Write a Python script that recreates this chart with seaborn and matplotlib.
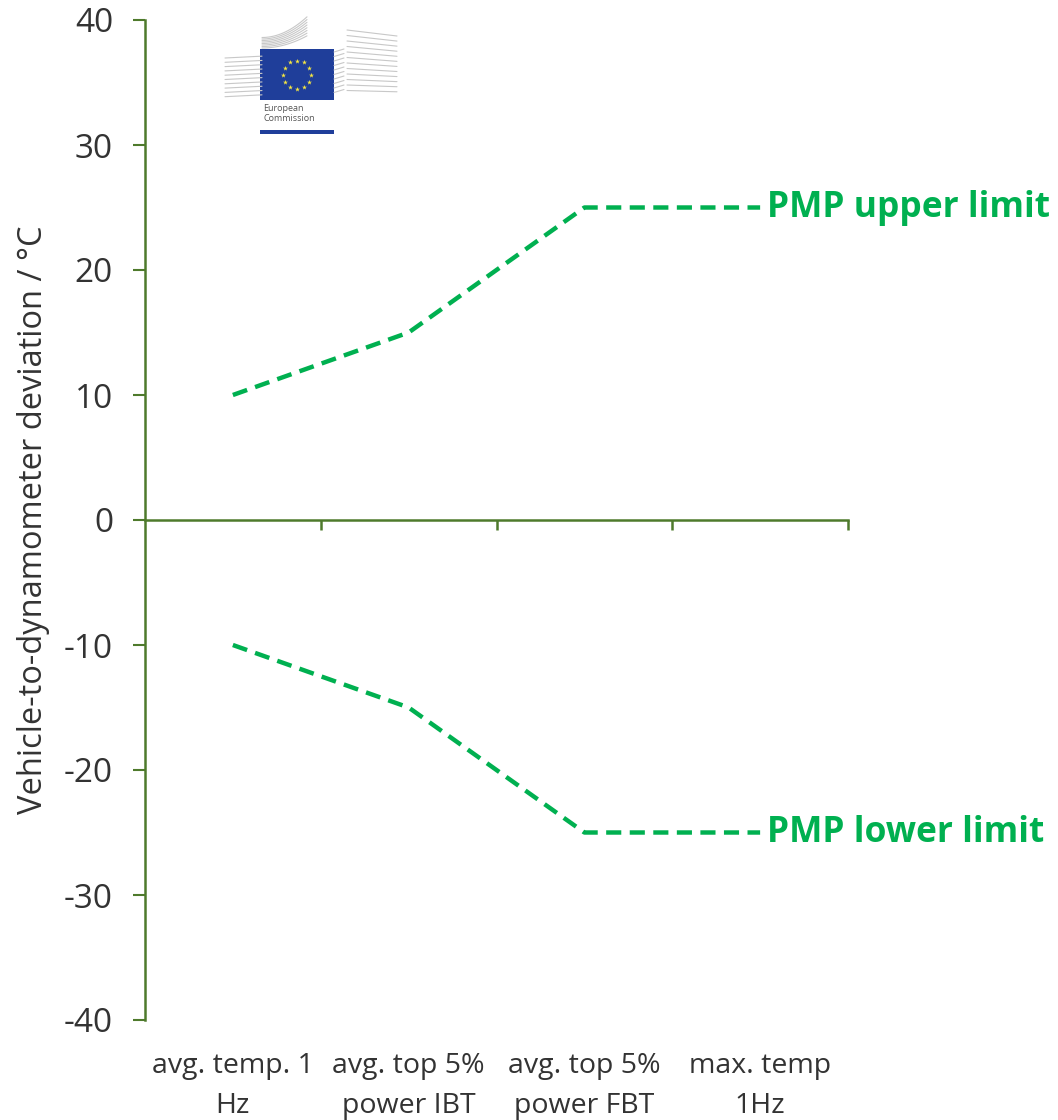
import numpy as np
import pandas as pd
import matplotlib
matplotlib.use("Agg")
import matplotlib.pyplot as plt
import seaborn as sns
from matplotlib.patches import Rectangle

categories = ["avg. temp. 1\nHz", "avg. top 5%\npower IBT", "avg. top 5%\npower FBT", "max. temp\n1Hz"]
upper_limit = [10, 15, 25, 25]
lower_limit = [-10, -15, -25, -25]
series_names = ["PMP upper limit", "PMP lower limit"]
y_ticks = [-40, -30, -20, -10, 0, 10, 20, 30, 40]

sns.set_style("white")
plt.rcParams['font.family'] = ['Open Sans', 'DejaVu Sans']

AXIS = '#4E7A2C'
GREEN = '#00B050'
TXT = '#333333'

df = pd.DataFrame({
    "x": list(range(len(categories))) * 2,
    "y": upper_limit + lower_limit,
    "series": [series_names[0]] * len(categories) + [series_names[1]] * len(categories),
})

fig = plt.figure(figsize=(10.58, 11.2), dpi=100)
ax = fig.add_axes([145/1058, 1 - 1020/1120, (848 - 145)/1058, 1000/1120])

sns.lineplot(data=df, x="x", y="y", units="series", estimator=None, ax=ax,
             color=GREEN, linewidth=3.2, legend=False)
for ln in ax.lines:
    ln.set_dashes((3.4, 1.9))

ax.set_xlim(-0.5, 3.5)
ax.set_ylim(-40, 40)
ax.set_yticks(y_ticks)
ax.set_yticklabels([str(v) for v in y_ticks], fontsize=24, color=TXT)
ax.tick_params(axis='y', direction='out', length=9, width=1.5, color=AXIS, pad=14, left=True)

ax.spines['top'].set_visible(False)
ax.spines['right'].set_visible(False)
ax.spines['left'].set_color(AXIS)
ax.spines['left'].set_linewidth(1.8)
ax.spines['bottom'].set_color(AXIS)
ax.spines['bottom'].set_linewidth(1.8)
ax.spines['bottom'].set_position(('data', 0))

ax.set_xticks([0.5, 1.5, 2.5, 3.5])
ax.set_xticklabels([])
ax.tick_params(axis='x', direction='out', length=7, width=1.8, color=AXIS, bottom=True)
ax.set_xlabel("")
ax.set_ylabel("Vehicle-to-dynamometer deviation / °C", fontsize=23.5, color=TXT, labelpad=10)

trans = ax.get_xaxis_transform()
for i, lab in enumerate(categories):
    ax.text(i, -0.032, lab, transform=trans, ha='center', va='top', fontsize=20.5,
            color=TXT, linespacing=1.55)

ax.text(3.04, upper_limit[-1], series_names[0], ha='left', va='center', fontsize=25.5,
        fontweight='bold', color=GREEN, clip_on=False)
ax.text(3.04, lower_limit[-1], series_names[1], ha='left', va='center', fontsize=25.5,
        fontweight='bold', color=GREEN, clip_on=False)

# European Commission logo (approximation)
lax = fig.add_axes([222/1058, 1 - 138/1120, (400 - 222)/1058, (138 - 12)/1120])
lax.set_xlim(222, 400)
lax.set_ylim(138, 12)
lax.axis('off')
for k in range(10):
    yy = 58 + k * 4.5
    xs = np.linspace(225, 262, 20)
    lax.plot(xs, yy - (xs - 225) * 0.05 - k * 0.2, color='#c8c8c8', lw=0.8)
    xs2 = np.linspace(334, 344, 5)
    lax.plot(xs2, yy - 6 - (xs2 - 334) * 0.3, color='#c8c8c8', lw=0.8)
for k in range(12):
    xs = np.linspace(347, 397, 20)
    yy = 30 + k * 5.5
    lax.plot(xs, yy + (xs - 347) * 0.12 * (1 - k / 14), color='#c8c8c8', lw=0.8)
for k in range(8):
    xs = np.linspace(262, 307, 20)
    yy = 48 - k * 1.5
    lax.plot(xs, yy - (xs - 262) ** 2 * 0.006 * (1 + k * 0.1), color='#c8c8c8', lw=0.8)
lax.add_patch(Rectangle((260, 49), 74, 51, facecolor='#1F3E9A', edgecolor='none'))
theta = np.linspace(0, 2 * np.pi, 13)[:-1]
lax.scatter(297 + 14 * np.cos(theta), 74.5 + 14 * np.sin(theta), marker='*', s=14,
            color='#F5E642', linewidths=0)
lax.text(263, 104, "European", fontsize=6.5, color='#555555', va='top', ha='left')
lax.text(263, 114, "Commission", fontsize=6.5, color='#555555', va='top', ha='left')
lax.add_patch(Rectangle((260, 130), 74, 4, facecolor='#1F3E9A', edgecolor='none'))

fig.savefig("out.png", dpi=100)
